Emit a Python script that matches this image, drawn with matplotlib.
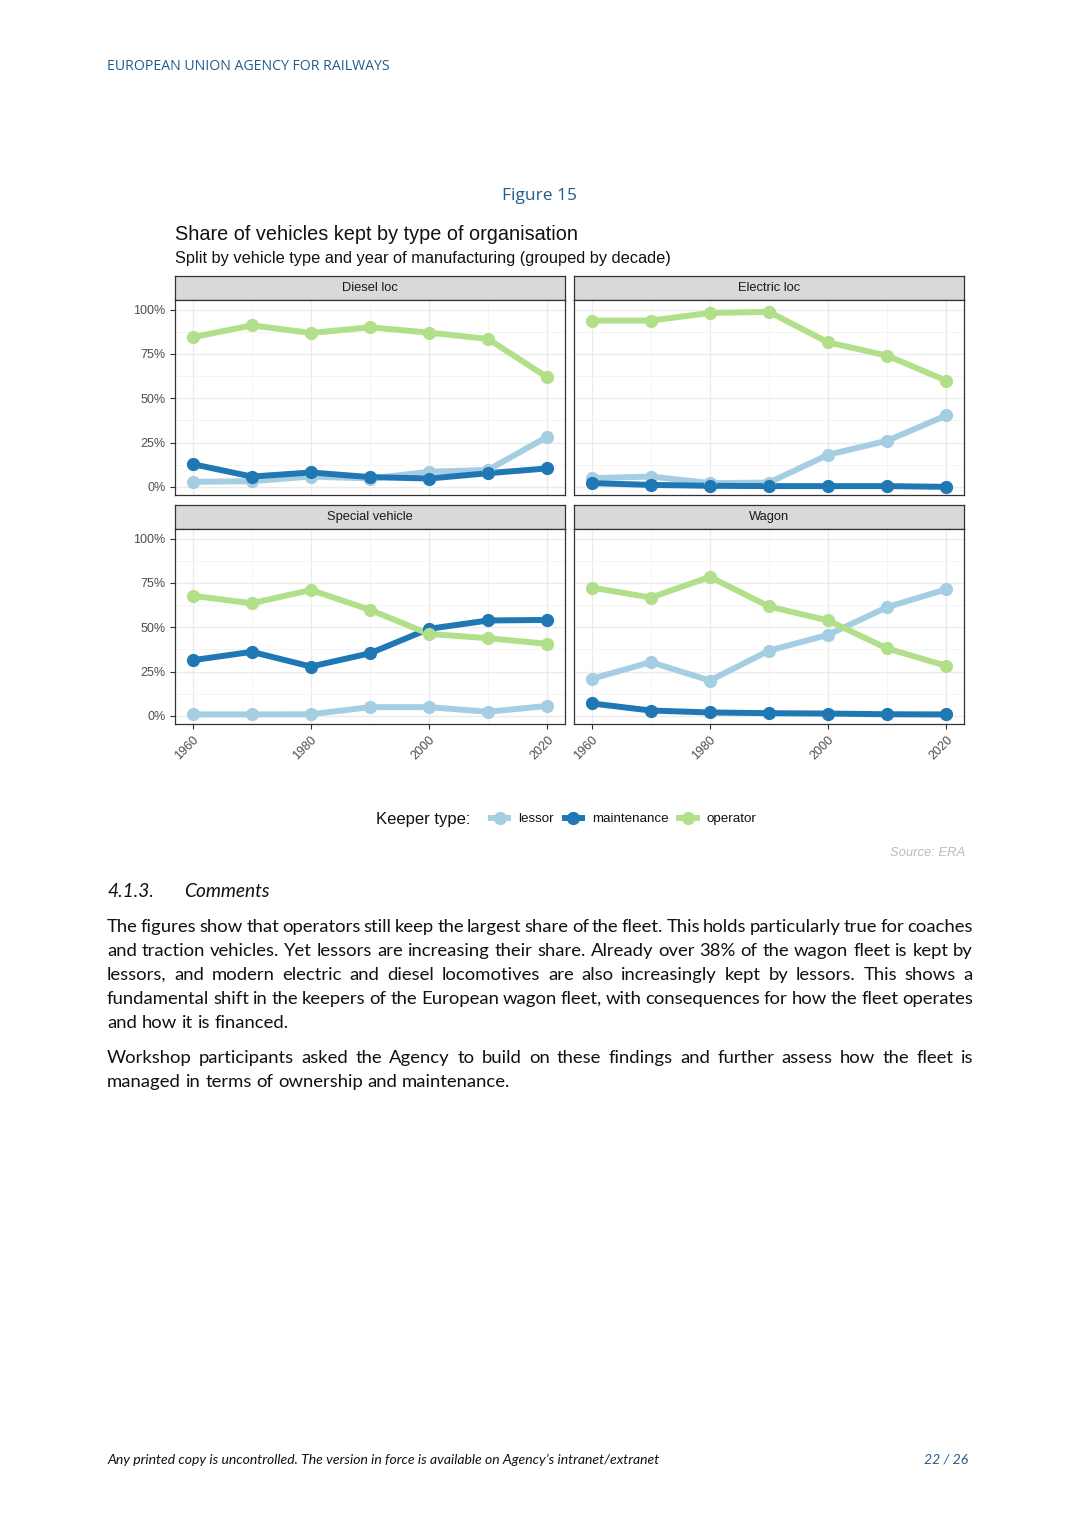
import numpy as np
import matplotlib
matplotlib.use("Agg")
import matplotlib.pyplot as plt
from matplotlib.lines import Line2D
from matplotlib.ticker import FixedLocator

W, H = 1080, 1524

years = [1960, 1970, 1980, 1990, 2000, 2010, 2020]

diesel_lessor = [2.8, 3.2, 5.8, 4.7, 8.5, 9.6, 28.2]
diesel_maint = [12.8, 5.8, 8.1, 5.5, 4.7, 7.7, 10.4]
diesel_oper = [84.4, 91.1, 86.8, 90.0, 87.0, 83.4, 61.8]

electric_lessor = [4.9, 5.8, 2.1, 2.4, 18.1, 26.0, 40.3]
electric_maint = [2.1, 1.1, 0.6, 0.4, 0.4, 0.4, 0.0]
electric_oper = [93.8, 93.8, 98.1, 98.7, 81.5, 74.0, 59.9]

special_lessor = [0.8, 0.8, 0.9, 4.9, 4.9, 2.3, 5.6]
special_maint = [31.4, 36.1, 27.8, 35.3, 49.1, 53.8, 54.1]
special_oper = [67.7, 63.5, 71.0, 59.8, 46.2, 43.8, 40.6]

wagon_lessor = [20.9, 30.3, 19.9, 36.8, 45.7, 61.3, 71.4]
wagon_maint = [7.0, 3.0, 1.9, 1.5, 1.3, 0.9, 0.8]
wagon_oper = [72.4, 66.7, 78.4, 61.7, 53.8, 38.0, 28.2]

panel_names = ["Diesel loc", "Electric loc", "Special vehicle", "Wagon"]
keeper_types = ["lessor", "maintenance", "operator"]
keeper_colors = ["#A6CEE3", "#1F78B4", "#B2DF8A"]

panel_data = [
    [diesel_lessor, diesel_maint, diesel_oper],
    [electric_lessor, electric_maint, electric_oper],
    [special_lessor, special_maint, special_oper],
    [wagon_lessor, wagon_maint, wagon_oper],
]

para1 = [
    "The figures show that operators still keep the largest share of the fleet. This holds particularly true for coaches",
    "and traction vehicles. Yet lessors are increasing their share. Already over 38% of the wagon fleet is kept by",
    "lessors, and modern electric and diesel locomotives are also increasingly kept by lessors. This shows a",
    "fundamental shift in the keepers of the European wagon fleet, with consequences for how the fleet operates",
    "and how it is financed.",
]
para2 = [
    "Workshop participants asked the Agency to build on these findings and further assess how the fleet is",
    "managed in terms of ownership and maintenance.",
]

BLUE = "#245C8C"
CHART_FONT = ["Liberation Sans", "DejaVu Sans"]
BODY_FONT = ["Lato", "DejaVu Sans"]


def fx(x):
    return x / W


def fy(y):
    return 1 - y / H


def rect(x0, y0, x1, y1):
    return [fx(x0), fy(y1), (x1 - x0) / W, (y1 - y0) / H]


def justify(fig, line, x0, x1, y, last=False, **kw):
    r = fig.canvas.get_renderer()
    words = line.split()
    arts = [fig.text(fx(x0), fy(y), w, va="baseline", **kw) for w in words]
    widths = [a.get_window_extent(r).width for a in arts]
    sp = fig.text(0, 0, "a b", **kw)
    sp2 = fig.text(0, 0, "ab", **kw)
    gap = sp.get_window_extent(r).width - sp2.get_window_extent(r).width
    sp.remove()
    sp2.remove()
    if not last and len(words) > 1:
        gap = max((x1 - x0 - sum(widths)) / (len(words) - 1), gap * 0.6)
    x = x0
    for a, w in zip(arts, widths):
        a.set_x(fx(x))
        x += w + gap


fig = plt.figure(figsize=(W / 100, H / 100), dpi=100)

# page header
fig.text(fx(107), fy(66), "EUROPEAN UNION AGENCY FOR RAILWAYS", color=BLUE,
         fontsize=10.2, family=["Open Sans", "DejaVu Sans"], va="center")
fig.text(fx(540), fy(196), "Figure 15", color=BLUE, fontsize=12.5,
         family=["Open Sans", "DejaVu Sans"], ha="center", va="center")

# chart titles
fig.text(fx(175), fy(234), "Share of vehicles kept by type of organisation",
         fontsize=14.3, family=CHART_FONT, color="#111111", va="center")
fig.text(fx(175), fy(259), "Split by vehicle type and year of manufacturing (grouped by decade)",
         fontsize=11.8, family=CHART_FONT, color="#111111", va="center")

# facets
cols = [(175, 565), (574, 964)]
rows = [(276, 300, 495), (505, 529, 724)]

for i, name in enumerate(panel_names):
    r, c = divmod(i, 2)
    xa, xb = cols[c]
    ys, yp, yb = rows[r]

    sax = fig.add_axes(rect(xa, ys, xb, yp))
    sax.set_facecolor("#D9D9D9")
    sax.set_xticks([])
    sax.set_yticks([])
    for s in sax.spines.values():
        s.set_color("#333333")
        s.set_linewidth(0.9)
    sax.text(0.5, 0.5, name, transform=sax.transAxes, ha="center", va="center",
             fontsize=9.3, family=CHART_FONT, color="#1A1A1A")

    ax = fig.add_axes(rect(xa, yp, xb, yb))
    ax.set_xlim(1957, 2023)
    ax.set_ylim(-4.6, 105.4)
    ax.xaxis.set_major_locator(FixedLocator([1960, 1980, 2000, 2020]))
    ax.xaxis.set_minor_locator(FixedLocator([1970, 1990, 2010]))
    ax.yaxis.set_major_locator(FixedLocator([0, 25, 50, 75, 100]))
    ax.yaxis.set_minor_locator(FixedLocator([12.5, 37.5, 62.5, 87.5]))
    ax.grid(which="major", color="#EBEBEB", linewidth=1.0)
    ax.grid(which="minor", color="#F2F2F2", linewidth=0.6)
    ax.set_axisbelow(True)
    for s in ax.spines.values():
        s.set_color("#333333")
        s.set_linewidth(0.9)
    ax.tick_params(which="minor", length=0)
    ax.tick_params(which="major", color="#333333", length=3.5, width=0.8,
                   labelsize=9, labelcolor="#4D4D4D")

    if c == 0:
        ax.set_yticklabels(["0%", "25%", "50%", "75%", "100%"], family=CHART_FONT)
    else:
        ax.tick_params(axis="y", length=0, labelleft=False)
    if r == 1:
        ax.set_xticklabels(["1960", "1980", "2000", "2020"], rotation=45,
                           ha="right", va="top", rotation_mode="anchor",
                           family=CHART_FONT)
    else:
        ax.tick_params(axis="x", length=0, labelbottom=False)

    for vals, col in zip(panel_data[i], keeper_colors):
        ax.plot(years, vals, color=col, linewidth=4.3, solid_capstyle="round",
                zorder=2)
    for vals, col in zip(panel_data[i], keeper_colors):
        ax.plot(years, vals, "o", color=col, markersize=8.5, zorder=3)

# legend
fig.text(fx(376), fy(819), "Keeper type:", fontsize=12, family=CHART_FONT,
         color="#111111", va="center")
handles = [Line2D([0], [0], color=col, linewidth=4.3, marker="o", markersize=8.5)
           for col in keeper_colors]
leg = fig.legend(handles, keeper_types, ncol=3, frameon=False, loc="center left",
                 bbox_to_anchor=(fx(479), fy(819)), handlelength=1.3,
                 handletextpad=0.75, columnspacing=0.8,
                 prop={"family": CHART_FONT, "size": 9.6})
for t in leg.get_texts():
    t.set_color("#111111")

fig.text(fx(965), fy(853), "Source: ERA", fontsize=9.4, family=CHART_FONT,
         style="italic", color="#BBBBBB", ha="right", va="center")

# section text
fig.text(fx(107), fy(897), "4.1.3.", fontsize=13.8, family=BODY_FONT,
         style="italic", color="#111111", va="baseline")
fig.text(fx(184), fy(897), "Comments", fontsize=13.8, family=BODY_FONT,
         style="italic", color="#111111", va="baseline")

body = dict(fontsize=13.3, family=BODY_FONT, color="#111111")
y = 932
for k, line in enumerate(para1):
    justify(fig, line, 107, 973, y, last=(k == len(para1) - 1), **body)
    y += 24
y = 1063
for k, line in enumerate(para2):
    justify(fig, line, 107, 973, y, last=(k == len(para2) - 1), **body)
    y += 24

# footer
fig.text(fx(107), fy(1464), "Any printed copy is uncontrolled. The version in force is available on Agency\u2019s intranet/extranet",
         fontsize=10.1, family=BODY_FONT, style="italic", color="#111111", va="baseline")
fig.text(fx(968), fy(1464), "22 / 26", fontsize=10.1, family=BODY_FONT,
         style="italic", color=BLUE, ha="right", va="baseline")

fig.savefig("out.png", dpi=100, facecolor="white")
